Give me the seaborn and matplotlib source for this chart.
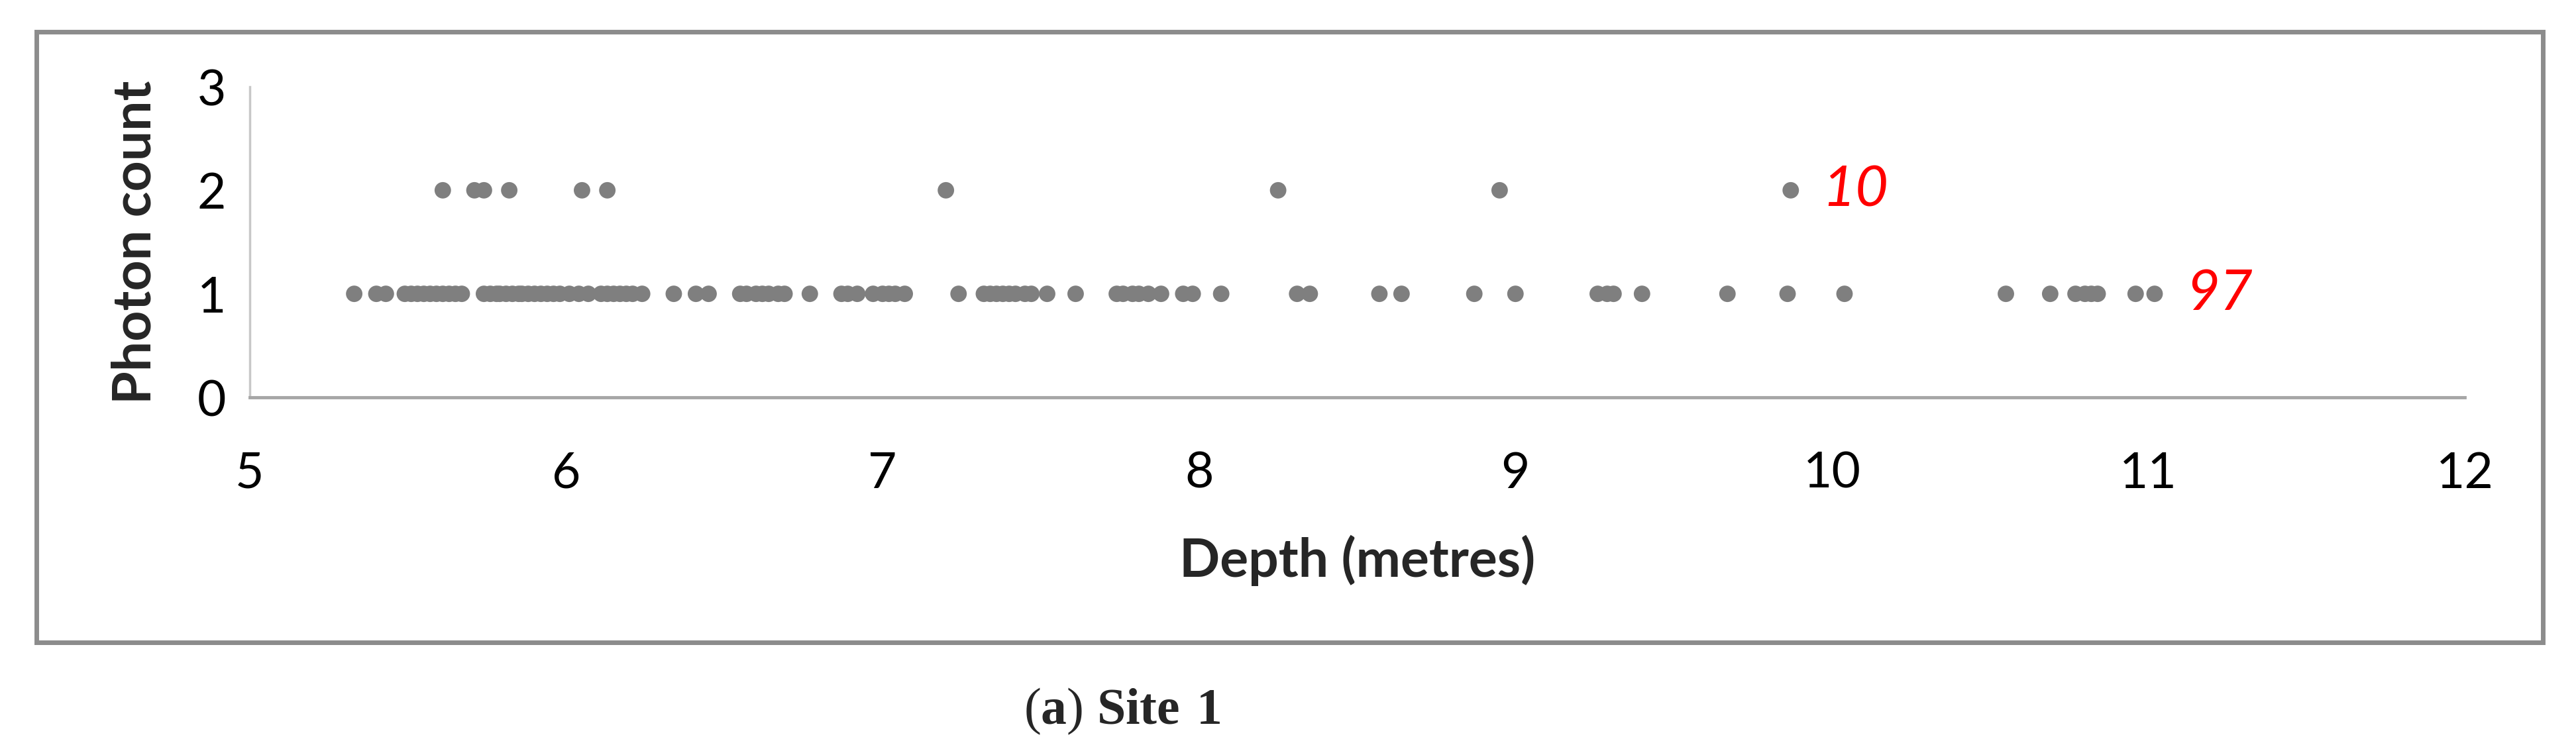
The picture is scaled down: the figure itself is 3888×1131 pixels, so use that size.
import numpy as np
import pandas as pd
import matplotlib
matplotlib.use("Agg")
import matplotlib.pyplot as plt
import seaborn as sns
from matplotlib.patches import Rectangle

# ---- data ----
depth_count1 = [
    5.33, 5.40, 5.43,
    5.49, 5.51, 5.53, 5.55, 5.57, 5.59, 5.61, 5.63, 5.65, 5.67,
    5.74, 5.76, 5.78, 5.79, 5.81, 5.83, 5.85, 5.86, 5.88, 5.90, 5.92, 5.94, 5.96, 5.98,
    6.01, 6.04, 6.07,
    6.11, 6.13, 6.15, 6.17, 6.19, 6.21, 6.24,
    6.34, 6.41, 6.45,
    6.55, 6.57, 6.60, 6.62, 6.64, 6.67, 6.69,
    6.77,
    6.87, 6.89, 6.92,
    6.97, 7.00, 7.02, 7.04, 7.07,
    7.24,
    7.32, 7.34, 7.36, 7.38, 7.40, 7.42, 7.45, 7.47,
    7.52, 7.61,
    7.74, 7.76, 7.79, 7.81, 7.84,
    7.88, 7.95, 7.98, 8.07,
    8.31, 8.35, 8.57, 8.64, 8.87, 9.00,
    9.26, 9.29, 9.31,
    9.40, 9.67, 9.86, 10.04,
    10.55, 10.69, 10.77, 10.80, 10.82, 10.84, 10.96, 11.02,
]
depth_count2 = [5.61, 5.71, 5.74, 5.82, 6.05, 6.13, 7.20, 8.25, 8.95, 9.87]
count_labels = ["97", "10"]
label_pos_x = [11.12, 9.97]
label_pos_y = [1, 2]
x_ticks = [5, 6, 7, 8, 9, 10, 11, 12]
y_ticks = [0, 1, 2, 3]

df = pd.DataFrame({
    "Depth": depth_count1 + depth_count2,
    "Photons": [1] * len(depth_count1) + [2] * len(depth_count2),
})

sns.set_style("white")
plt.rcParams["font.family"] = ["Lato", "DejaVu Sans"]
plt.rcParams["mathtext.fontset"] = "custom"
plt.rcParams["mathtext.rm"] = "Liberation Serif"
plt.rcParams["mathtext.bf"] = "Liberation Serif:bold"

W, H, DPI = 3888, 1131, 100
fig = plt.figure(figsize=(W / DPI, H / DPI), dpi=DPI)
ax = fig.add_axes([377 / W, 1 - 600 / H, (3720 - 377) / W, (600 - 131) / H])

sns.scatterplot(data=df, x="Depth", y="Photons", ax=ax, color="#7f7f7f",
                s=320, edgecolor="none", linewidth=0, legend=False)

ax.set_xlim(5, 12)
ax.set_ylim(0, 3)
ax.set_xticks(x_ticks)
ax.set_yticks(y_ticks)
ax.tick_params(axis="both", length=0, labelsize=54, colors="#000000")
ax.tick_params(axis="x", pad=58)
ax.tick_params(axis="y", pad=26)

for s in ["top", "right"]:
    ax.spines[s].set_visible(False)
ax.spines["left"].set_color("#c8c8c8")
ax.spines["left"].set_linewidth(2.5)
ax.spines["bottom"].set_color("#a6a6a6")
ax.spines["bottom"].set_linewidth(3.5)

ax.set_xlabel("Depth (metres)", fontsize=58, fontweight="bold", labelpad=42)
ax.set_ylabel("Photon count", fontsize=58, fontweight="bold", labelpad=40)

for t, x, y in zip(count_labels, label_pos_x, label_pos_y):
    ax.text(x, y, t, color="#ff0000", fontsize=62, style="italic",
            ha="left", va="center")

# outer frame
frame = Rectangle((55 / W, 1 - 970 / H), (3838 - 55) / W, (970 - 48) / H,
                  transform=fig.transFigure, fill=False,
                  edgecolor="#8c8c8c", linewidth=5, clip_on=False)
fig.patches.append(frame)

# caption
fig.text(1694 / W, 1 - 1074 / H, r"($\mathbf{a}$) $\mathbf{Site\ 1}$",
         fontsize=56, family="Liberation Serif", ha="center", va="center")

fig.savefig("out.png", dpi=DPI, facecolor="white")
